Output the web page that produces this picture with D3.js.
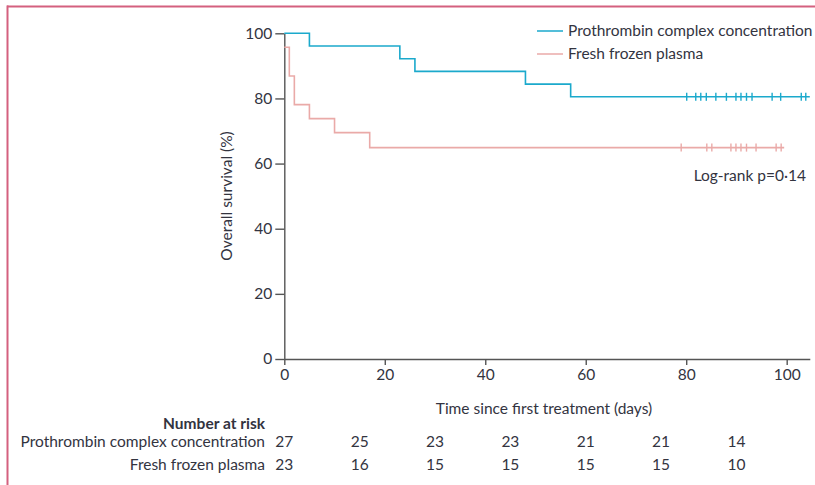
<!DOCTYPE html>
<html>
<head>
<meta charset="utf-8">
<script src="https://cdn.jsdelivr.net/npm/d3@7"></script>
<style>
  html, body { margin: 0; padding: 0; background: #fff; }
  svg { display: block; }
  text { font-family: Lato, "Open Sans", sans-serif; fill: #33343f; }
</style>
</head>
<body>
<svg id="chart" width="815" height="485"></svg>
<script>
// ---- Data ----
const pccTimes = [0, 5, 23, 26, 48, 57];
const pccSurv = [100, 96.1, 92.2, 88.3, 84.4, 80.5];
const pccEnd = 104.6;
const pccCensor = [80.1, 81.9, 82.9, 84.0, 85.9, 88.0, 89.9, 90.9, 92.0, 93.1, 97.1, 98.8, 102.9, 103.8];

const ffpTimes = [0, 1, 2, 5, 10, 17];
const ffpSurv = [95.7, 86.9, 78.1, 73.8, 69.5, 64.9];
const ffpEnd = 99.5;
const ffpCensor = [79.0, 84.1, 85.1, 88.9, 89.9, 90.9, 92.0, 93.9, 97.9, 98.9];

const xTicks = [0, 20, 40, 60, 80, 100];
const yTicks = [0, 20, 40, 60, 80, 100];

const riskDays = [0, 15, 30, 45, 60, 75, 90];
const pccRisk = [27, 25, 23, 23, 21, 21, 14];
const ffpRisk = [23, 16, 15, 15, 15, 15, 10];

const seriesNames = ["Prothrombin complex concentration", "Fresh frozen plasma"];
const seriesColors = ["#1ba9cc", "#eaaaa8"];

// ---- Drawing ----
const svg = d3.select("#chart");
const FS = "15.5px";

// frame
svg.append("line").attr("x1", 7).attr("x2", 815).attr("y1", 6.5).attr("y2", 6.5)
  .attr("stroke", "#d4607f").attr("stroke-width", 2);
svg.append("line").attr("x1", 7.5).attr("x2", 7.5).attr("y1", 5.5).attr("y2", 485)
  .attr("stroke", "#d4607f").attr("stroke-width", 2);

const x = d3.scaleLinear().domain([0, 104.6]).range([284.3, 809.8]);
const y = d3.scaleLinear().domain([0, 100]).range([359, 33.3]);

const axisColor = "#555";

const gx = svg.append("g").attr("transform", `translate(0,${y(0)})`)
  .call(d3.axisBottom(x).tickValues(xTicks).tickSizeInner(6).tickSizeOuter(0).tickPadding(4));
const gy = svg.append("g").attr("transform", `translate(${x(0)},0)`)
  .call(d3.axisLeft(y).tickValues(yTicks).tickSizeInner(9).tickSizeOuter(0).tickPadding(3));
[gx, gy].forEach(g => {
  g.select(".domain").attr("stroke", axisColor).attr("stroke-width", 1.4);
  g.selectAll(".tick line").attr("stroke", axisColor).attr("stroke-width", 1.4);
  g.selectAll(".tick text").style("font-family", "Lato, sans-serif").style("font-size", FS).attr("fill", "#33343f");
});

// axis titles
svg.append("text").attr("x", 544).attr("y", 414).attr("text-anchor", "middle")
  .style("font-size", FS).text("Time since first treatment (days)");
svg.append("text").attr("transform", "translate(232,196) rotate(-90)").attr("text-anchor", "middle")
  .style("font-size", FS).text("Overall survival (%)");

// KM step curves
function stepPoints(times, surv, end) {
  const pts = times.map((t, i) => [t, surv[i]]);
  pts.push([end, surv[surv.length - 1]]);
  return pts;
}
const line = d3.line().x(d => x(d[0])).y(d => y(d[1])).curve(d3.curveStepAfter);

const series = [
  { times: ffpTimes, surv: ffpSurv, end: ffpEnd, censor: ffpCensor, color: seriesColors[1] },
  { times: pccTimes, surv: pccSurv, end: pccEnd, censor: pccCensor, color: seriesColors[0] }
];
series.forEach(s => {
  svg.append("path").datum(stepPoints(s.times, s.surv, s.end))
    .attr("fill", "none").attr("stroke", s.color).attr("stroke-width", 1.6).attr("d", line);
  const lvl = s.surv[s.surv.length - 1];
  svg.append("g").selectAll("line").data(s.censor).join("line")
    .attr("x1", d => x(d)).attr("x2", d => x(d))
    .attr("y1", y(lvl) - 4).attr("y2", y(lvl) + 4)
    .attr("stroke", s.color).attr("stroke-width", 1.4);
});

// legend
const legend = svg.append("g");
seriesNames.forEach((name, i) => {
  const ly = 31 + i * 23;
  legend.append("line").attr("x1", 537).attr("x2", 563).attr("y1", ly).attr("y2", ly)
    .attr("stroke", seriesColors[i]).attr("stroke-width", 1.5);
  legend.append("text").attr("x", 568).attr("y", ly + 5).style("font-size", FS).text(name);
});

// log-rank
svg.append("text").attr("x", 806).attr("y", 181).attr("text-anchor", "end")
  .style("font-size", FS).text("Log-rank p=0·14");

// number at risk
svg.append("text").attr("x", 265).attr("y", 429).attr("text-anchor", "end")
  .style("font-size", FS).style("font-weight", "bold").text("Number at risk");
[pccRisk, ffpRisk].forEach((row, i) => {
  const ry = 447 + i * 23;
  svg.append("text").attr("x", 265).attr("y", ry).attr("text-anchor", "end")
    .style("font-size", FS).text(seriesNames[i]);
  svg.append("g").selectAll("text").data(row).join("text")
    .attr("x", (d, j) => x(riskDays[j])).attr("y", ry).attr("text-anchor", "middle")
    .style("font-size", FS).text(d => d);
});
</script>
</body>
</html>
